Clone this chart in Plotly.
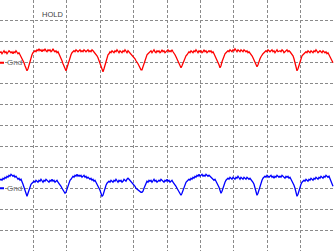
import plotly.graph_objects as go

# Sample index (1 sample per screen column), 10 divisions across
samples = list(range(334))
SAMPLES_PER_DIV = 33.4
UNITS_PER_DIV = 20.917  # vertical units per division

# Channel 1 (red), values relative to its ground marker
red_vals = [
    10, 11, 9, 10, 12, 10, 11, 9, 10, 12, 11, 10, 11, 9, 11, 10, 12, 10, 9, 10,
    8, 7, 5, 3, 0, -3, -6, -8, -6, -2,
    3, 6, 8, 10, 11, 12, 11, 13, 12, 14,
    12, 13, 11, 13, 12, 14, 12, 11, 13, 12,
    13, 11, 12, 14, 12, 11, 12, 10, 11, 9,
    7, 5, 2, -1, -4, -7, -8, -5, -1, 3,
    6, 8, 10, 11, 12, 11, 13, 12, 11, 12,
    13, 11, 12, 11, 13, 12, 11, 12, 13, 11,
    12, 11, 13, 12, 11, 10, 9, 7, 5, 2,
    -1, -4, -7, -9, -6, -2, 2, 5, 8, 9,
    11, 10, 12, 11, 10, 12, 11, 13, 11, 10,
    12, 11, 10, 12, 11, 13, 11, 10, 12, 11,
    10, 9, 8, 7, 5, 4, 2, 1, -1, -3,
    -5, -7, -7, -4, 0, 3, 6, 8, 9, 10,
    11, 12, 10, 11, 13, 11, 10, 12, 11, 12,
    10, 11, 13, 11, 12, 10, 11, 12, 13, 11,
    12, 11, 13, 11, 10, 8, 6, 4, 2, 0,
    -2, -5, -3, 0, 3, 5, 7, 8, 10, 11,
    10, 12, 11, 10, 12, 11, 13, 11, 10, 12,
    11, 12, 10, 11, 13, 11, 12, 10, 11, 12,
    11, 12, 10, 11, 9, 7, 5, 3, 0, -2,
    -5, -3, 1, 4, 7, 9, 10, 11, 12, 11,
    13, 12, 11, 13, 12, 14, 12, 11, 13, 12,
    11, 13, 12, 11, 13, 12, 11, 12, 10, 11,
    10, 9, 7, 5, 3, 0, -2, -4, -2, 2,
    4, 6, 8, 9, 10, 11, 12, 11, 13, 12,
    11, 12, 13, 11, 12, 10, 12, 13, 11, 12,
    12, 11, 13, 12, 10, 11, 12, 13, 11, 12,
    11, 10, 9, 7, 4, 0, -4, -8, -6, -2,
    2, 5, 7, 8, 9, 10, 11, 10, 12, 11,
    10, 12, 11, 10, 12, 11, 13, 11, 10, 11,
    12, 11, 10, 12, 11, 10, 11, 9, 10, 8,
    6, 4, 2, 0,
]

# Channel 2 (blue), values relative to its ground marker
blue_vals = [
    8, 9, 8, 10, 9, 11, 10, 12, 11, 13,
    12, 14, 13, 12, 13, 11, 12, 10, 9, 10,
    8, 9, 7, 4, 1, -3, -7, -8, -5, -1,
    2, 4, 5, 6, 7, 6, 8, 7, 6, 8,
    7, 9, 7, 6, 8, 7, 9, 8, 7, 6,
    8, 7, 9, 7, 8, 6, 7, 8, 6, 5,
    4, 2, 0, -2, -4, -5, -4, -1, 3, 6,
    8, 9, 10, 12, 11, 13, 12, 14, 12, 13,
    12, 13, 11, 12, 13, 11, 12, 10, 11, 10,
    9, 10, 8, 9, 7, 8, 6, 5, 3, 1,
    -2, -5, -8, -7, -3, 1, 3, 5, 6, 7,
    6, 8, 7, 6, 8, 7, 9, 7, 6, 8,
    7, 8, 6, 7, 9, 8, 7, 9, 10, 9,
    8, 6, 5, 4, 3, 2, 0, -1, -2, -2,
    -3, -4, -4, -3, 0, 3, 5, 7, 6, 8,
    7, 8, 6, 7, 9, 7, 8, 6, 7, 8,
    7, 9, 8, 7, 6, 8, 7, 9, 7, 8,
    6, 7, 8, 6, 5, 4, 2, 0, -2, -4,
    -6, -7, -5, -2, 1, 4, 6, 7, 8, 9,
    8, 10, 9, 11, 10, 12, 11, 13, 12, 14,
    12, 13, 14, 12, 13, 12, 14, 13, 12, 13,
    12, 11, 10, 9, 8, 9, 7, 6, 4, 1,
    -2, -5, -3, 1, 4, 6, 8, 9, 10, 9,
    11, 10, 9, 11, 10, 9, 11, 10, 12, 10,
    9, 11, 10, 9, 11, 10, 9, 11, 10, 9,
    10, 9, 8, 6, 4, 1, -3, -7, -5, -1,
    3, 6, 8, 10, 11, 12, 11, 13, 12, 11,
    12, 13, 11, 12, 10, 12, 11, 13, 12, 11,
    12, 11, 13, 12, 11, 10, 12, 11, 12, 10,
    11, 9, 8, 6, 3, 0, -4, -8, -6, -2,
    2, 4, 6, 7, 8, 7, 9, 8, 7, 9,
    8, 10, 9, 8, 10, 9, 11, 10, 9, 11,
    10, 12, 11, 10, 12, 11, 13, 12, 11, 12,
    9, 6, 4, 2,
]

red_gnd_div = 3
blue_gnd_div = -3

red_y = [v + red_gnd_div * UNITS_PER_DIV for v in red_vals]
blue_y = [v + blue_gnd_div * UNITS_PER_DIV for v in blue_vals]

fig = go.Figure()
fig.add_trace(go.Scatter(x=samples, y=red_y, mode="lines",
                         line=dict(color="#ff0000", width=1.3), hoverinfo="skip"))
fig.add_trace(go.Scatter(x=samples, y=blue_y, mode="lines",
                         line=dict(color="#0000ff", width=1.3), hoverinfo="skip"))

grid = dict(showgrid=True, gridcolor="#8a8a8a", gridwidth=1, griddash="3px,2px",
            zeroline=False, showticklabels=False, ticks="", showline=False)

fig.update_layout(
    width=334, height=251,
    margin=dict(l=0, r=0, t=0, b=0),
    paper_bgcolor="white", plot_bgcolor="white",
    showlegend=False,
    xaxis=dict(range=[0, 10 * SAMPLES_PER_DIV],
               tickvals=[k * SAMPLES_PER_DIV for k in range(1, 10)], **grid),
    yaxis=dict(range=[-6 * UNITS_PER_DIV, 6 * UNITS_PER_DIV],
               tickvals=[k * UNITS_PER_DIV for k in range(-5, 6)], **grid),
    font=dict(family="Liberation Sans, Arial, sans-serif"),
)

fig.add_annotation(text="HOLD", xref="paper", yref="paper", x=40 / 334, y=1 - 15 / 251,
                   xanchor="left", yanchor="middle", showarrow=False,
                   font=dict(size=7.5, color="#404040"))

for gnd, col in [(red_gnd_div, "#ff0000"), (blue_gnd_div, "#0000ff")]:
    fig.add_annotation(text="Gnd", xref="paper", yref="y", x=5 / 334, y=gnd * UNITS_PER_DIV,
                       xanchor="left", yanchor="middle", showarrow=False,
                       font=dict(size=8, color="#6a6a6a"))
    fig.add_shape(type="line", xref="paper", yref="y", x0=0, x1=4 / 334,
                  y0=gnd * UNITS_PER_DIV, y1=gnd * UNITS_PER_DIV,
                  line=dict(color=col, width=2))

fig.write_html("out.html")
